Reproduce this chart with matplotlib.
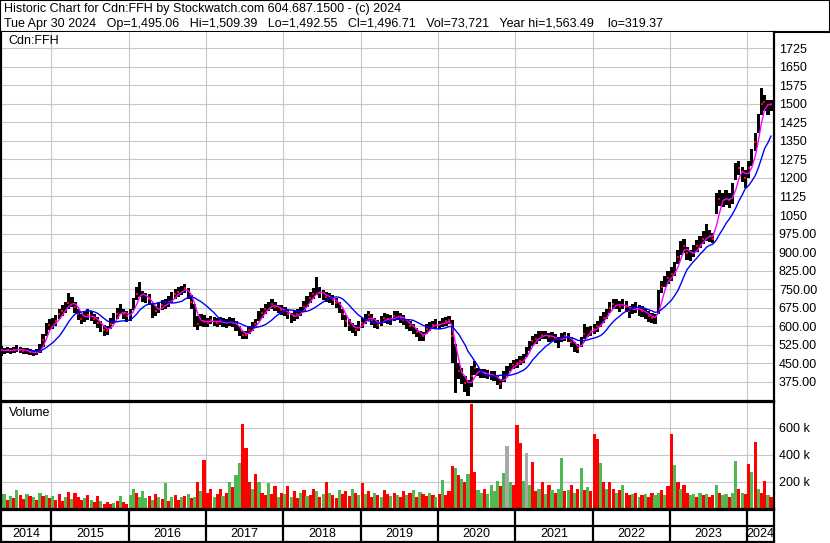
import numpy as np
import pandas as pd
import matplotlib
matplotlib.use("Agg")
import matplotlib.pyplot as plt
import matplotlib.dates as mdates

# Cdn:FFH, half-month bars (1st / 15th), May 2014 - Apr 2024
close_2014 = [505, 500, 505, 500, 505, 510, 505, 500, 500, 495, 490, 495, 510, 545, 590, 605]
high_2014 = [522, 514, 516, 512, 518, 524, 516, 512, 512, 508, 503, 510, 530, 568, 615, 628]
low_2014 = [478, 488, 494, 488, 494, 498, 494, 488, 488, 482, 478, 484, 494, 515, 560, 585]

close_2015 = [610, 622, 650, 663, 675, 695, 700, 680, 650, 630, 640, 645, 640, 630, 615, 600, 585, 580, 610, 630, 650, 670, 650, 640]
high_2015 = [632, 645, 672, 688, 700, 735, 720, 700, 672, 650, 660, 668, 662, 650, 636, 622, 605, 600, 635, 655, 675, 692, 672, 660]
low_2015 = [588, 600, 628, 640, 655, 672, 680, 655, 625, 608, 618, 625, 620, 608, 592, 578, 562, 565, 590, 610, 628, 648, 630, 618]

close_2016 = [645, 690, 730, 740, 720, 715, 710, 670, 660, 675, 685, 690, 700, 715, 730, 740, 745, 755, 735, 700, 640, 610, 625, 620]
high_2016 = [668, 715, 760, 778, 742, 735, 732, 695, 682, 698, 705, 710, 722, 738, 752, 760, 765, 772, 755, 728, 690, 640, 650, 645]
low_2016 = [622, 665, 705, 718, 698, 695, 688, 635, 640, 655, 665, 672, 680, 695, 710, 720, 725, 735, 712, 672, 598, 585, 600, 598]

close_2017 = [615, 625, 620, 615, 620, 615, 612, 620, 615, 600, 580, 565, 565, 585, 600, 610, 640, 655, 670, 680, 690, 680, 670, 665]
high_2017 = [632, 640, 636, 632, 636, 632, 630, 636, 632, 620, 600, 582, 582, 602, 618, 630, 660, 675, 690, 700, 712, 700, 688, 685]
low_2017 = [598, 608, 602, 598, 604, 598, 595, 603, 598, 582, 562, 549, 550, 568, 582, 592, 620, 635, 650, 660, 670, 662, 652, 645]

close_2018 = [660, 650, 635, 640, 650, 660, 680, 700, 715, 730, 750, 735, 725, 720, 715, 705, 695, 680, 650, 620, 605, 595, 585, 600]
high_2018 = [680, 672, 655, 660, 670, 680, 702, 722, 738, 755, 800, 758, 745, 740, 735, 725, 715, 700, 672, 645, 628, 615, 605, 622]
low_2018 = [640, 630, 614, 620, 630, 640, 660, 680, 695, 710, 728, 715, 705, 700, 695, 685, 675, 655, 625, 598, 582, 572, 562, 580]

close_2019 = [615, 630, 645, 625, 615, 605, 620, 635, 630, 625, 640, 645, 635, 625, 610, 600, 590, 575, 560, 560, 590, 600, 605, 610]
high_2019 = [635, 650, 663, 648, 635, 625, 640, 655, 650, 645, 660, 663, 655, 645, 630, 620, 610, 595, 580, 578, 608, 618, 622, 628]
low_2019 = [595, 610, 625, 605, 595, 588, 600, 615, 610, 605, 620, 625, 615, 605, 590, 580, 570, 555, 541, 542, 570, 582, 588, 592]

close_2020 = [605, 615, 620, 625, 560, 420, 420, 400, 370, 350, 400, 430, 415, 410, 410, 405, 400, 400, 385, 365, 395, 420, 435, 445]
high_2020 = [622, 632, 638, 640, 625, 530, 452, 432, 400, 382, 440, 460, 432, 428, 428, 422, 418, 418, 402, 385, 418, 438, 452, 462]
low_2020 = [588, 598, 602, 608, 450, 330, 385, 368, 335, 318, 355, 405, 398, 392, 392, 388, 382, 380, 362, 347, 375, 402, 418, 428]

close_2021 = [450, 460, 470, 495, 520, 540, 550, 560, 565, 565, 555, 560, 550, 540, 555, 560, 555, 535, 515, 510, 535, 570, 575, 580]
high_2021 = [468, 478, 490, 515, 540, 560, 570, 580, 582, 582, 572, 578, 568, 558, 572, 578, 572, 555, 535, 528, 558, 610, 598, 600]
low_2021 = [432, 442, 452, 475, 500, 520, 530, 542, 548, 548, 538, 542, 532, 513, 538, 542, 538, 515, 495, 493, 515, 550, 555, 560]

close_2022 = [590, 600, 620, 635, 650, 675, 690, 690, 680, 690, 680, 660, 670, 675, 665, 660, 650, 640, 635, 630, 700, 760, 780, 795]
high_2022 = [610, 622, 642, 658, 672, 700, 712, 712, 702, 712, 702, 682, 692, 700, 688, 682, 672, 662, 655, 650, 745, 785, 805, 825]
low_2022 = [570, 578, 598, 612, 628, 652, 668, 668, 658, 668, 658, 635, 648, 652, 642, 638, 628, 618, 612, 610, 650, 735, 758, 772]

close_2023 = [810, 830, 880, 915, 925, 895, 885, 905, 925, 940, 955, 970, 965, 955, 1100, 1115, 1110, 1120, 1110, 1125, 1225, 1240, 1215, 1200]
high_2023 = [840, 860, 910, 945, 955, 920, 910, 930, 950, 965, 985, 1015, 990, 978, 1140, 1150, 1140, 1150, 1140, 1178, 1260, 1270, 1245, 1230]
low_2023 = [785, 805, 852, 888, 898, 868, 866, 880, 900, 915, 932, 945, 942, 935, 1055, 1085, 1082, 1090, 1080, 1095, 1190, 1210, 1185, 1160]

close_2024 = [1240, 1285, 1345, 1420, 1500, 1505, 1485, 1497]
high_2024 = [1270, 1315, 1380, 1460, 1563, 1535, 1515, 1515]
low_2024 = [1200, 1250, 1310, 1380, 1455, 1470, 1455, 1470]

# volume in thousands of shares, same half-month bars
vol_2014 = [90, 110, 70, 95, 80, 140, 100, 75, 110, 95, 85, 70, 120, 95, 100, 80]
vol_2015 = [95, 70, 110, 60, 85, 125, 75, 120, 90, 65, 80, 105, 70, 55, 95, 60, 40, 50, 35, 45, 60, 95, 55, 40]
vol_2016 = [100, 145, 120, 90, 130, 80, 95, 70, 110, 90, 75, 195, 60, 90, 100, 70, 85, 95, 110, 80, 90, 200, 130, 360]
vol_2017 = [120, 150, 90, 110, 150, 95, 120, 200, 160, 250, 340, 626, 452, 200, 150, 256, 200, 120, 100, 190, 110, 170, 90, 120]
vol_2018 = [110, 170, 90, 130, 80, 120, 140, 95, 100, 150, 130, 90, 110, 196, 120, 100, 80, 140, 110, 130, 95, 150, 120, 100]
vol_2019 = [190, 110, 130, 90, 120, 100, 85, 140, 110, 95, 120, 100, 90, 130, 105, 115, 140, 90, 125, 110, 95, 120, 100, 90]
vol_2020 = [110, 211, 100, 130, 317, 300, 250, 220, 200, 260, 777, 272, 140, 120, 150, 110, 180, 130, 210, 170, 264, 468, 200, 180]
vol_2021 = [619, 490, 210, 415, 180, 347, 130, 150, 200, 110, 180, 140, 120, 150, 377, 130, 140, 180, 120, 150, 302, 140, 160, 130]
vol_2022 = [551, 520, 340, 200, 150, 200, 150, 120, 140, 180, 120, 100, 110, 120, 90, 100, 110, 90, 120, 100, 120, 140, 100, 170]
vol_2023 = [551, 325, 200, 150, 180, 120, 100, 110, 90, 120, 100, 110, 90, 100, 180, 120, 100, 110, 90, 120, 355, 150, 120, 110]
vol_2024 = [332, 272, 491, 150, 120, 204, 100, 90]

# dominant session direction of each bar: g = up, d = down, n = unchanged
dir_2014 = "dgdgdgddgdgdgdgd"
dir_2015 = "gdddgdgdddgdgddgdddgdgdd"
dir_2016 = "ggdgggdgdgdgdgddgdgdgdgd"
dir_2017 = "ddgddgdgdggdddgdgddgddgd"
dir_2018 = "gdgddgdgddgdgdgddgdddgdg"
dir_2019 = "dgddgdgddgdgddgdgdgddgdg"
dir_2020 = "dgdddgdgdgddggdggggdgngd"
dir_2021 = "ddgngddgdgdgdggdgdgdgdgd"
dir_2022 = "ddgdgddgdgddgdgdgddggdgd"
dir_2023 = "dgdgddggdgdgddgdggdggdgd"
dir_2024 = "dgdgddgd"

years = [2014, 2015, 2016, 2017, 2018, 2019, 2020, 2021, 2022, 2023, 2024]
price_ticks = [375, 450, 525, 600, 675, 750, 825, 900, 975, 1050, 1125, 1200, 1275, 1350, 1425, 1500, 1575, 1650, 1725]
vol_ticks = [200, 400, 600]

header_1 = "Historic Chart for Cdn:FFH by Stockwatch.com 604.687.1500 - (c) 2024"
header_2 = ("Tue Apr 30 2024   Op=1,495.06   Hi=1,509.39   Lo=1,492.55   Cl=1,496.71   "
            "Vol=73,721   Year hi=1,563.49    lo=319.37")

#%%
close = np.array(close_2014 + close_2015 + close_2016 + close_2017 + close_2018 + close_2019
                 + close_2020 + close_2021 + close_2022 + close_2023 + close_2024, dtype=float)
high = np.array(high_2014 + high_2015 + high_2016 + high_2017 + high_2018 + high_2019
                + high_2020 + high_2021 + high_2022 + high_2023 + high_2024, dtype=float)
low = np.array(low_2014 + low_2015 + low_2016 + low_2017 + low_2018 + low_2019
               + low_2020 + low_2021 + low_2022 + low_2023 + low_2024, dtype=float)
volume = np.array(vol_2014 + vol_2015 + vol_2016 + vol_2017 + vol_2018 + vol_2019
                  + vol_2020 + vol_2021 + vol_2022 + vol_2023 + vol_2024, dtype=float)
direction = np.array(list(dir_2014 + dir_2015 + dir_2016 + dir_2017 + dir_2018 + dir_2019
                          + dir_2020 + dir_2021 + dir_2022 + dir_2023 + dir_2024))

dates = pd.date_range("2014-05-01", periods=len(close), freq="SMS") + pd.Timedelta(days=7)
x = mdates.date2num(dates)

ma_short = pd.Series(close).rolling(3, min_periods=1).mean()
ma_long = pd.Series(close).rolling(10, min_periods=10).mean()

down = direction == "d"
color_map = {"g": "#50b850", "d": "#ff0000", "n": "#a8a8a8"}
vol_colors = [color_map[d] for d in direction]

plt.rcParams["font.family"] = ["Liberation Sans", "DejaVu Sans"]
plt.rcParams["font.size"] = 9

W, H = 830, 543
fig = plt.figure(figsize=(W / 100, H / 100), dpi=100)
fig.patch.set_facecolor("white")


def px_axes(x0, y0, x1, y1):
    return fig.add_axes([x0 / W, 1 - y1 / H, (x1 - x0) / W, (y1 - y0) / H])


xmin = mdates.date2num(pd.Timestamp("2014-05-08"))
xmax = mdates.date2num(pd.Timestamp("2024-05-06"))
year_lines = [mdates.date2num(pd.Timestamp(f"{y}-01-01")) for y in years[1:]]
grid_kw = dict(color="#c8c8c8", lw=0.8, zorder=0)

# header box
head = px_axes(0, 0, W, 32)
head.set_xticks([])
head.set_yticks([])
for s in head.spines.values():
    s.set_linewidth(1.5)
head.text(4 / W, 0.71, header_1, transform=head.transAxes, va="center", ha="left", fontsize=9)
head.text(4 / W, 0.24, header_2, transform=head.transAxes, va="center", ha="left", fontsize=9)

# price panel
ax = px_axes(1, 32, 774, 401)
ax.set_xlim(xmin, xmax)
ax.set_ylim(298, 1790)
for yl in year_lines:
    ax.axvline(yl, **grid_kw)
for t in price_ticks:
    ax.axhline(t, **grid_kw)
ax.bar(x, high - low, bottom=low, width=15.2, color="black", zorder=2)
ax.plot(x[down], close[down], ls="none", marker="s", ms=1.7, mew=0, color="red", zorder=3)
ax.plot(x, ma_short, color="#ff00ff", lw=1.0, zorder=4)
ax.plot(x, ma_long, color="#0000ff", lw=1.0, zorder=4)
ax.set_xticks([])
ax.yaxis.tick_right()
ax.set_yticks(price_ticks)
ax.set_yticklabels([f"{t:.2f}" if t < 1000 else f"{t:.0f}" for t in price_ticks])
ax.tick_params(axis="y", length=0, pad=3.5, labelsize=9)
for s in ["left", "right", "bottom"]:
    ax.spines[s].set_linewidth(1.6)
ax.spines["top"].set_visible(False)
ax.text(7 / 773, 0.975, "Cdn:FFH", transform=ax.transAxes, va="center", ha="left", fontsize=9)

# volume panel
vax = px_axes(1, 402, 774, 509)
vax.set_xlim(xmin, xmax)
vax.set_ylim(0, 790)
for yl in year_lines:
    vax.axvline(yl, **grid_kw)
for t in vol_ticks:
    vax.axhline(t, **grid_kw)
vax.bar(x, volume, width=15.2, color=vol_colors, zorder=2)
vax.set_xticks([])
vax.yaxis.tick_right()
vax.set_yticks(vol_ticks)
vax.set_yticklabels([f"{t} k" for t in vol_ticks])
vax.tick_params(axis="y", length=0, pad=3.5, labelsize=9)
for s in vax.spines.values():
    s.set_linewidth(1.6)
vax.text(8 / 773, 0.9, "Volume", transform=vax.transAxes, va="center", ha="left", fontsize=9)

# year strip
yax = px_axes(1, 510, 774, 542)
yax.set_xlim(xmin, xmax)
yax.set_ylim(0, 2)
for yl in year_lines:
    yax.axvline(yl, color="black", lw=1.6)
yax.axhline(1, color="black", lw=1.6)
edges = [xmin] + year_lines + [xmax]
for i, y in enumerate(years):
    yax.text((edges[i] + edges[i + 1]) / 2, 0.5, str(y), ha="center", va="center", fontsize=9)
yax.set_xticks([])
yax.set_yticks([])
for s in yax.spines.values():
    s.set_linewidth(1.6)

fig.savefig("out.png", dpi=100)
